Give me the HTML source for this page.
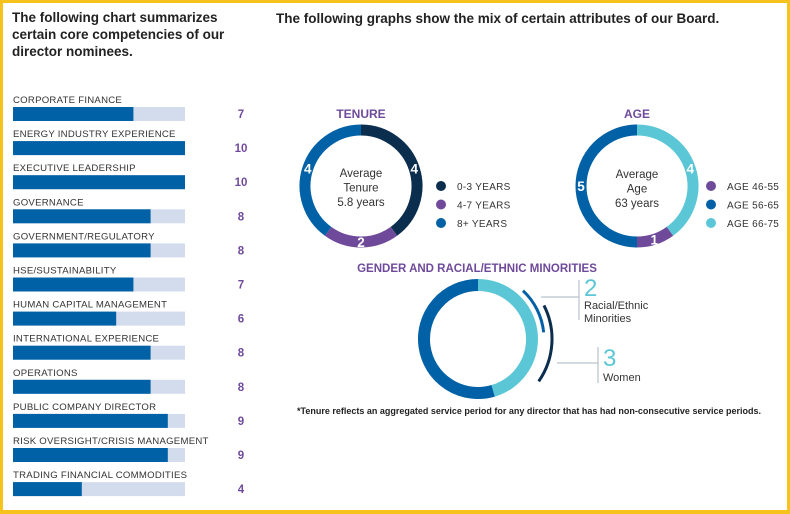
<!DOCTYPE html>
<html><head><meta charset="utf-8"><style>
body{margin:0;background:#fff;}
#wrap{position:relative;width:784px;height:507px;border:3px solid #f7c21b;border-bottom-width:4px;background:#fff;font-family:"Liberation Sans",sans-serif;overflow:hidden}
svg{position:absolute;left:-3px;top:-3px}
</style></head><body>
<div id="wrap">
<svg id="chart" width="790" height="514"></svg>
</div>
<script>
const skillLabels=["CORPORATE FINANCE","ENERGY INDUSTRY EXPERIENCE","EXECUTIVE LEADERSHIP","GOVERNANCE","GOVERNMENT/REGULATORY","HSE/SUSTAINABILITY","HUMAN CAPITAL MANAGEMENT","INTERNATIONAL EXPERIENCE","OPERATIONS","PUBLIC COMPANY DIRECTOR","RISK OVERSIGHT/CRISIS MANAGEMENT","TRADING FINANCIAL COMMODITIES"];
const skillValues=[7,10,10,8,8,7,6,8,8,9,9,4];
const skillMax=10;
const tenureLabels=["0-3 YEARS","4-7 YEARS","8+ YEARS"];
const tenureValues=[4,2,4];
const ageLabels=["AGE 46-55","AGE 56-65","AGE 66-75"];
const ageValues=[1,5,4];
const ageOrder=[2,0,1];
const diversityLabels=["Racial/Ethnic Minorities","Women"];
const diversityValues=[2,3];
const boardSize=11;

const NS="http://www.w3.org/2000/svg";
const svg=document.getElementById('chart');
function el(tag,attrs,parent){const e=document.createElementNS(NS,tag);for(const k in attrs)e.setAttribute(k,attrs[k]);(parent||svg).appendChild(e);return e;}
function txt(x,y,s,attrs,parent){const t=el('text',Object.assign({x:x,y:y,'font-family':'Liberation Sans, sans-serif'},attrs),parent);t.textContent=s;return t;}

let h=txt(12,22,"",{'font-size':'13.5','font-weight':'bold',fill:'#222'});

["The following chart summarizes","certain core competencies of our","director nominees."].forEach((s,i)=>{const ts=el('tspan',{x:12,y:22+i*17},h);ts.textContent=s;});
let h2=txt(276,23,"The following graphs show the mix of certain attributes of our Board.",{'font-size':'13.5','font-weight':'bold',fill:'#222'});


const bx0=13,bw=172,by0=107,step=34.1,bh=14;
function xs(v){return bx0+v/skillMax*bw;}
skillLabels.forEach((lab,i)=>{
  const y=by0+i*step;
  const g=el('g',{});
  
  
  txt(13,y-4,lab,{'font-size':'9.6',fill:'#333','letter-spacing':'0.25'},g);
  const bg=el('rect',{x:bx0,y:y,width:bw,height:bh,fill:'#d3dcec'},g);
  
  const b=el('rect',{x:bx0,y:y,width:xs(skillValues[i])-bx0,height:bh,fill:'#0061a6'},g);
  
  const v=txt(241,y+11,String(skillValues[i]),{'font-size':'11.5','font-weight':'bold',fill:'#6f4a9b','text-anchor':'middle'},g);
  
});

function arcPath(cx,cy,r,a0,a1){
  const p=a=>[cx+r*Math.sin(a),cy-r*Math.cos(a)];
  const [x0,y0]=p(a0),[x1,y1]=p(a1);const large=(a1-a0)>Math.PI?1:0;
  return `M${x0},${y0} A${r},${r} 0 ${large} 1 ${x1},${y1}`;
}
function donut(cx,cy,r,w,vals,cols,order,name){
  const tot=vals.reduce((a,b)=>a+b,0);let a=0;
  order.forEach(i=>{
    const a1=a+vals[i]/tot*2*Math.PI;
    const p=el('path',{d:arcPath(cx,cy,r,a,a1>=2*Math.PI?a1-0.0001:a1),fill:'none',stroke:cols[i],'stroke-width':w});
    
    const m=(a+a1)/2;
    const t=txt(cx+r*Math.sin(m),cy-r*Math.cos(m)+5,String(vals[i]),{'font-size':'13.5','font-weight':'bold',fill:'#fff','text-anchor':'middle'});
    
    a=a1;
  });
}
const tenureCols=['#0c2e4e','#6f4a9b','#0061a6'];
const ageCols=['#6f4a9b','#0061a6','#5bc7d6'];
let t1=txt(361,118,"TENURE",{'font-size':'12','font-weight':'bold',fill:'#6f4a9b','text-anchor':'middle'});

donut(361,186,56,11,tenureValues,tenureCols,[0,1,2],'tenure');
["Average","Tenure","5.8 years"].forEach((s,i)=>{const c=txt(361,177+i*14.5,s,{'font-size':'11.5',fill:'#333','text-anchor':'middle'});});
tenureLabels.forEach((s,i)=>{
  const c=el('circle',{cx:441,cy:186+i*18.5,r:5,fill:tenureCols[i]});
  const l=txt(457,190+i*18.5,s,{'font-size':'10',fill:'#333','letter-spacing':'0.3'});
});
let t2=txt(637,118,"AGE",{'font-size':'12','font-weight':'bold',fill:'#6f4a9b','text-anchor':'middle'});

donut(637,186,56,11,ageValues,ageCols,ageOrder,'age');
["Average","Age","63 years"].forEach((s,i)=>{const c=txt(637,178+i*14.5,s,{'font-size':'11.5',fill:'#333','text-anchor':'middle'});});
ageLabels.forEach((s,i)=>{
  const c=el('circle',{cx:711,cy:186+i*18.5,r:5,fill:ageCols[i]});
  const l=txt(727,190+i*18.5,s,{'font-size':'10',fill:'#333','letter-spacing':'0.3'});
});
let t3=txt(477,272,"GENDER AND RACIAL/ETHNIC MINORITIES",{'font-size':'11.5','font-weight':'bold',fill:'#6f4a9b','text-anchor':'middle'});

const gcx=478,gcy=339,gr=54;
const frac=(diversityValues[0]+diversityValues[1])/boardSize;
const fa=frac*2*Math.PI;
let gb=el('path',{d:arcPath(gcx,gcy,gr,fa,2*Math.PI-0.0001),fill:'none',stroke:'#0061a6','stroke-width':12});

let gc=el('path',{d:arcPath(gcx,gcy,gr,0,fa),fill:'none',stroke:'#5bc7d6','stroke-width':12});

const unitA=0.36;
let ra=el('path',{d:arcPath(gcx,gcy,66,0.75,0.75+diversityValues[0]*unitA),fill:'none',stroke:'#0061a6','stroke-width':3});

let wa=el('path',{d:arcPath(gcx,gcy,74,1.1,1.1+diversityValues[1]*unitA),fill:'none',stroke:'#0c2e4e','stroke-width':3});

let cl=el('path',{d:'M541,297 L579,297 M579,280 L579,320 M557,363 L598,363 M598,347 L598,383',stroke:'#b8c2cc','stroke-width':1.2,fill:'none'});

let n1=txt(584,296,String(diversityValues[0]),{'font-size':'24',fill:'#5bc7d6'});
let l1=txt(584,309,"Racial/Ethnic",{'font-size':'11',fill:'#333'});
let l1b=txt(584,322,"Minorities",{'font-size':'11',fill:'#333'});
let n2=txt(603,366,String(diversityValues[1]),{'font-size':'24',fill:'#5bc7d6'});
let l2=txt(603,381,"Women",{'font-size':'11',fill:'#333'});
let fn=txt(529,414,"*Tenure reflects an aggregated service period for any director that has had non-consecutive service periods.",{'font-size':'9','font-weight':'bold',fill:'#222','text-anchor':'middle'});

</script>
</body></html>
